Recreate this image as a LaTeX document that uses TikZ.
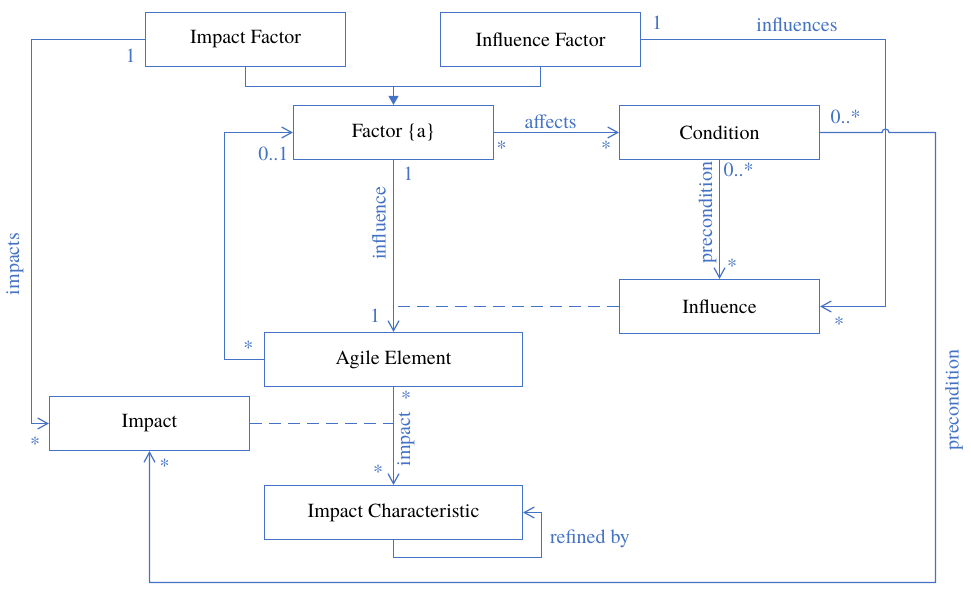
\documentclass[tikz,border=0pt]{standalone}
\usepackage{fontspec}
\setmainfont{texgyretermes}[Extension=.otf, UprightFont=*-regular, BoldFont=*-bold, ItalicFont=*-italic, BoldItalicFont=*-bolditalic]
\usetikzlibrary{arrows.meta}
\definecolor{umlblue}{RGB}{68,114,196}
\begin{document}
\begin{tikzpicture}[x=1pt,y=-1pt,
  box/.style={draw=umlblue, line width=1.2pt, minimum width=200pt, minimum height=54pt,
    inner sep=0pt, font=\rmfamily\fontsize{20}{24}\selectfont, text=black},
  widebox/.style={box, minimum width=258pt},
  lbl/.style={text=umlblue, inner sep=0pt, font=\rmfamily\fontsize{20}{24}\selectfont},
  conn/.style={draw=umlblue, line width=1.2pt},
  openarrow/.style={conn, -{Straight Barb[length=10pt,width=11pt]}},
  filledarrow/.style={conn, -{Triangle[length=9pt,width=10pt]}},
  dashline/.style={conn, dash pattern=on 12pt off 7pt}]
\useasboundingbox (0,0) rectangle (971,591);

% classes
\node[box] (IF) at (245.5,39.5) {Impact Factor};
\node[box] (InfF) at (540.5,39.5) {Influence Factor};
\node[box] (F) at (393.5,132.5) {Factor \{a\}};
\node[box] (C) at (719.5,132.5) {Condition};
\node[box] (Inf) at (719.5,306.5) {Influence};
\node[widebox] (AE) at (393.5,359.5) {Agile Element};
\node[box] (Im) at (149.5,423.5) {Impact};
\node[widebox] (IC) at (393.5,512.5) {Impact Characteristic};

% helper coordinates
\coordinate (j) at (393.5,86.5);
\coordinate (k1) at (31.5,39.5);
\coordinate (k2) at (224.5,359.5);
\coordinate (k3) at (885.5,39.5);
\coordinate (h1) at (882,132.5);
\coordinate (k4) at (935.5,132.5);
\coordinate (k5) at (935.5,582.5);
\coordinate (k6) at (541.5,557.5);

% generalisation
\draw[conn] (IF.south) |- (j) -| (InfF.south);
\draw[filledarrow] (j) -- (F.north);

% impacts
\draw[openarrow] (IF.west) -- (k1) |- (Im.west);
% factor loop
\draw[openarrow] (AE.west) -- (k2) |- (F.west);
% affects
\draw[openarrow] (F.east) -- (C.west);
% influence
\draw[openarrow] (F.south) -- (AE.north);
\draw[dashline] (Inf.west) -- (Inf.west -| AE.north);
% precondition
\draw[openarrow] (C.south) -- (Inf.north);
% influences
\draw[openarrow] (InfF.east) -- (k3) |- (Inf.east);
% precondition to impact (with hop)
\draw[openarrow] (C.east) -- (h1) arc (180:360:3.5) -- (k4) -- (k5) -| (Im.south);
% impact
\draw[openarrow] (AE.south) -- (IC.north);
\draw[dashline] (Im.east) -- (Im.east -| AE.south);
% refined by
\draw[openarrow] (IC.south) |- (k6) |- (IC.east);

% labels
\node[lbl] (l1) at (130.5,56) {1};
\node[lbl] (l2) at (35,443.5) {*};
\node[lbl, rotate=90] (l3) at (15,264) {impacts};
\node[lbl] (l4) at (273.3,153.5) {0..1};
\node[lbl] (l5) at (248.3,347.5) {*};
\node[lbl] (l6) at (550.7,121.5) {affects};
\node[lbl] (l7) at (501.7,147.5) {*};
\node[lbl] (l8) at (606,147.5) {*};
\node[lbl] (l9) at (408.3,174) {1};
\node[lbl, rotate=90] (l10) at (379,223) {influence};
\node[lbl] (l11) at (375,315.5) {1};
\node[lbl] (l12) at (738.5,170) {0..*};
\node[lbl, rotate=90] (l13) at (707.5,212.5) {precondition};
\node[lbl] (l14) at (732,266) {*};
\node[lbl] (l15) at (657,22.5) {1};
\node[lbl] (l16) at (797,24.5) {influences};
\node[lbl] (l17) at (839,323.5) {*};
\node[lbl] (l18) at (845.5,117) {0..*};
\node[lbl, rotate=90] (l19) at (954,400) {precondition};
\node[lbl] (l20) at (164.5,466) {*};
\node[lbl] (l21) at (406,398) {*};
\node[lbl, rotate=90] (l22) at (406,439) {impact};
\node[lbl] (l23) at (378,471.5) {*};
\node[lbl] (l24) at (590,539) {refined by};
\end{tikzpicture}
\end{document}
